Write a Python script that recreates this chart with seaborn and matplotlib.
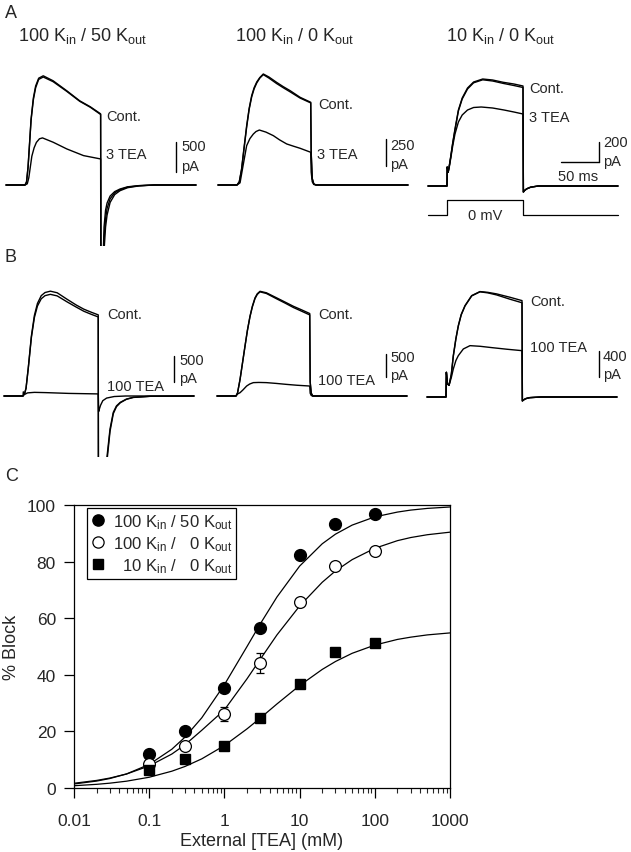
import matplotlib
matplotlib.use("Agg")
import matplotlib.pyplot as plt
import seaborn as sns

# ---------------- panel A / B current traces (t in ms, pulse 0-100 ms; I in pA) ----------------
a1_ctrl_t = [-25, 0, 2, 4, 6, 8, 11, 14, 18, 24, 37, 55, 72, 86, 99.5, 100, 101.5, 104, 106, 108, 112, 118, 125, 135, 150, 170, 225]
a1_ctrl_i = [0, 0, 50, 300, 700, 1100, 1450, 1650, 1780, 1820, 1737, 1570, 1403, 1303, 1186, -3000, -1800, -700, -420, -300, -184, -110, -67, -30, -10, 0, 0]
a1_ctrl2_i = [0, 0, 50, 290, 680, 1080, 1420, 1620, 1760, 1800, 1722, 1560, 1395, 1295, 1175, -3000, -2000, -900, -560, -390, -230, -130, -78, -36, -12, 0, 0]
a1_tea_t = [-25, 0, 3, 5, 7, 9, 12, 15, 19, 23, 37, 55, 77, 99.5, 100, 101.5, 104, 106, 108, 112, 118, 125, 135, 150, 170, 225]
a1_tea_i = [0, 0, 20, 120, 300, 480, 620, 710, 770, 785, 713, 601, 490, 434, -3000, -2200, -1100, -700, -500, -290, -160, -95, -45, -15, 0, 0]

a2_ctrl_t = [-25, 0, 3, 6, 9, 12.7, 16, 19.3, 22.5, 26, 30, 34.6, 42, 52, 61, 70, 83, 97, 97.6, 99, 101, 104, 225]
a2_ctrl_i = [0, 0, 30, 148, 330, 549, 710, 827, 900, 954, 995, 1028, 1000, 951, 910, 873, 812, 766, 300, 60, 10, 0, 0]
a2_ctrl2_i = [0, 0, 28, 140, 320, 535, 700, 815, 890, 945, 990, 1022, 990, 940, 900, 862, 805, 760, 300, 60, 10, 0, 0]
a2_tea_t = [-25, 0, 4, 8, 12.7, 17, 21.5, 25, 29.4, 38, 47.8, 56, 65.4, 74, 83, 97, 97.6, 99, 101, 104, 225]
a2_tea_i = [0, 0, 20, 180, 364, 430, 472, 495, 509, 490, 457, 418, 380, 360, 340, 303, 120, 30, 5, 0, 0]

a3_ctrl_t = [-25, 0, 0.3, 1.5, 3, 5, 7.5, 10.5, 15, 20, 27, 35, 47, 60, 74, 88, 100, 100.5, 102, 105, 110, 120, 225]
a3_ctrl_i = [0, 0, 190, 137, 200, 300, 430, 570, 760, 880, 980, 1040, 1070, 1060, 1037, 1020, 1000, -60, -45, -28, -12, 0, 0]
a3_ctrl2_i = [0, 0, 190, 137, 200, 295, 425, 560, 750, 870, 970, 1032, 1062, 1050, 1026, 1005, 985, -60, -45, -28, -12, 0, 0]
a3_tea_t = [-25, 0, 0.3, 1.5, 3, 5, 7.5, 10.5, 15, 20, 27, 35, 45, 60, 75, 88, 100, 100.5, 102, 105, 110, 120, 225]
a3_tea_i = [0, 0, 190, 137, 190, 280, 400, 520, 640, 710, 760, 785, 790, 780, 760, 740, 720, -60, -45, -28, -12, 0, 0]

step_t = [-25, 0, 0, 100, 100, 225]
step_mv = [-80, -80, 0, 0, -80, -80]

b1_ctrl_t = [-25, 0, 2, 4, 7, 11, 15, 19, 24, 29, 36, 45, 58, 70, 80, 90, 99, 99.5, 104, 108, 110.5, 114.5, 118.8, 123, 128, 136, 145, 167, 225]
b1_ctrl_i = [0, 0, 40, 150, 550, 1150, 1550, 1780, 1930, 1990, 2016, 1985, 1860, 1750, 1670, 1610, 1560, -5000, -3000, -1800, -1171, -634, -314, -190, -122, -60, -26, -6, 0]
b1_ctrl2_i = [0, 0, 40, 150, 540, 1120, 1510, 1730, 1870, 1930, 1955, 1925, 1810, 1710, 1630, 1570, 1520, -5000, -3100, -1900, -1250, -680, -340, -205, -130, -64, -28, -6, 0]
b1_tea_t = [-25, 0, 0.4, 2, 6, 15, 30, 60, 99, 99.5, 100.5, 102, 105, 110, 120, 135, 225]
b1_tea_i = [0, 0, 80, 30, 60, 70, 65, 50, 40, -300, -250, -180, -90, -40, -10, 0, 0]

b2_ctrl_t = [-25, 0, 2, 5.3, 8.5, 11.8, 15, 18.4, 21.5, 25, 28, 31.6, 40, 53.5, 65, 75.4, 86, 97, 97.6, 99, 101, 225]
b2_ctrl_i = [0, 0, 64, 357, 706, 1070, 1412, 1712, 1926, 2106, 2194, 2247, 2215, 2106, 2012, 1926, 1851, 1770, 300, 60, 0, 0]
b2_ctrl2_i = [0, 0, 64, 350, 700, 1060, 1400, 1700, 1910, 2090, 2180, 2235, 2200, 2085, 1990, 1900, 1822, 1740, 300, 60, 0, 0]
b2_tea_t = [-25, 0, 2, 5.3, 9, 14, 18, 22.8, 30, 40, 53, 66, 80, 97, 97.6, 99, 101, 225]
b2_tea_i = [0, 0, 43, 71, 128, 214, 257, 287, 291, 287, 270, 250, 231, 214, 60, 10, 0, 0]

b3_ctrl_t = [-25, 0, 0.5, 2, 4, 7, 9.6, 13, 16.2, 20, 25, 33.8, 44.7, 55, 66.7, 84, 100, 100.5, 102, 105, 110, 125, 225]
b3_ctrl_i = [0, 0, 380, 200, 180, 350, 636, 900, 1098, 1270, 1406, 1560, 1622, 1610, 1586, 1535, 1483, -60, -45, -25, -10, 0, 0]
b3_ctrl2_i = [0, 0, 380, 200, 180, 345, 625, 890, 1090, 1262, 1400, 1555, 1618, 1602, 1570, 1505, 1450, -60, -45, -25, -10, 0, 0]
b3_tea_t = [-25, 0, 0.5, 2, 4, 7, 9.6, 13, 16.2, 22.8, 31.6, 45, 60, 80, 100, 100.5, 102, 105, 110, 125, 225]
b3_tea_i = [0, 0, 380, 200, 180, 300, 431, 560, 636, 739, 790, 780, 760, 735, 713, -60, -45, -25, -10, 0, 0]

# ---------------- panel C: dose-response ----------------
tea_mm = [0.1, 0.3, 1, 3, 10, 30, 100]
block_100_50 = [12.1, 20.2, 35.5, 56.7, 82.5, 93.3, 96.8]
block_100_0 = [8.4, 14.9, 26.1, 44.3, 65.6, 78.5, 83.7]
block_100_0_err = [0, 0, 2.5, 3.5, 0, 0, 0]
block_10_0 = [6.2, 10.1, 14.9, 24.9, 36.9, 47.9, 51.1]

fit_x = [0.01, 0.02, 0.03, 0.05, 0.1, 0.2, 0.3, 0.5, 1, 2, 3, 5, 10, 20, 30, 50, 100, 200, 300, 500, 1000]
fit_100_50 = [1.42, 2.45, 3.35, 4.97, 8.34, 13.7, 18.0, 24.8, 36.5, 50.0, 58.0, 67.5, 78.4, 86.3, 89.7, 92.9, 95.8, 97.5, 98.2, 98.8, 99.3]
fit_100_0 = [1.67, 2.68, 3.52, 4.95, 7.8, 12.0, 15.3, 20.4, 27.6, 38.6, 45.5, 54.1, 64.3, 72.7, 76.7, 80.7, 84.7, 87.4, 88.5, 89.5, 90.4]
fit_10_0 = [0.80, 1.30, 1.71, 2.41, 3.8, 5.94, 7.62, 10.3, 15.0, 20.9, 24.7, 29.7, 36.2, 41.9, 44.7, 47.6, 50.5, 52.5, 53.3, 54.1, 54.8]

titles = [r"100 K$_{\mathrm{in}}$ / 50 K$_{\mathrm{out}}$",
          r"100 K$_{\mathrm{in}}$ / 0 K$_{\mathrm{out}}$",
          r"10 K$_{\mathrm{in}}$ / 0 K$_{\mathrm{out}}$"]
legend_labels = [r"100 K$_{\mathrm{in}}$ / 50 K$_{\mathrm{out}}$",
                 r"100 K$_{\mathrm{in}}$ /   0 K$_{\mathrm{out}}$",
                 r"  10 K$_{\mathrm{in}}$ /   0 K$_{\mathrm{out}}$"]

sns.set_style("ticks")
plt.rcParams["font.family"] = ["Liberation Sans", "DejaVu Sans"]
plt.rcParams["mathtext.fontset"] = "custom"
plt.rcParams["mathtext.rm"] = "Liberation Sans"
plt.rcParams["mathtext.it"] = "Liberation Sans:italic"
plt.rcParams["mathtext.bf"] = "Liberation Sans:bold"

W, H = 631, 853
fig = plt.figure(figsize=(W / 100, H / 100), dpi=100)
fig.patch.set_facecolor("white")

MS_PX = 0.76  # pixels per ms


def px_axes(left, top, width, height):
    return fig.add_axes([left / W, 1 - (top + height) / H, width / W, height / H])


def ftext(x, y, s, **kw):
    kw.setdefault("fontsize", 10)
    kw.setdefault("va", "center")
    fig.text(x / W, 1 - y / H, s, **kw)


def trace_axes(step_px, base_px, top_px, bottom_px, pa_per_px):
    ax = px_axes(step_px - 28 * MS_PX, top_px, 260 * MS_PX, bottom_px - top_px)
    ax.set_xlim(-28, 232)
    ax.set_ylim((base_px - bottom_px) * pa_per_px, (base_px - top_px) * pa_per_px)
    ax.axis("off")
    return ax


def draw(ax, t, i, lw=1.0):
    ax.plot(t, i, color="black", lw=lw, solid_joinstyle="round")


def scale_bar(ax, t, lo, val):
    ax.plot([t, t], [lo, lo + val], color="black", lw=1.0, clip_on=False)


# panel configs: step px, baseline px, pA per px
panels = [
    dict(step=25, base=186, top=55, bot=247, s=500 / 30),
    dict(step=237, base=186, top=55, bot=247, s=250 / 27),
    dict(step=447, base=187, top=55, bot=247, s=200 / 20),
    dict(step=23, base=397, top=270, bot=458, s=500 / 26),
    dict(step=236, base=397, top=270, bot=458, s=500 / 23.3),
    dict(step=446, base=398, top=270, bot=458, s=400 / 26),
]
axs = [trace_axes(p["step"], p["base"], p["top"], p["bot"], p["s"]) for p in panels]

draw(axs[0], a1_ctrl_t, a1_ctrl_i)
draw(axs[0], a1_ctrl_t, a1_ctrl2_i)
draw(axs[0], a1_tea_t, a1_tea_i)
draw(axs[1], a2_ctrl_t, a2_ctrl_i)
draw(axs[1], a2_ctrl_t, a2_ctrl2_i)
draw(axs[1], a2_tea_t, a2_tea_i)
draw(axs[2], a3_ctrl_t, a3_ctrl_i)
draw(axs[2], a3_ctrl_t, a3_ctrl2_i)
draw(axs[2], a3_tea_t, a3_tea_i)
draw(axs[3], b1_ctrl_t, b1_ctrl_i)
draw(axs[3], b1_ctrl_t, b1_ctrl2_i)
draw(axs[3], b1_tea_t, b1_tea_i)
draw(axs[4], b2_ctrl_t, b2_ctrl_i)
draw(axs[4], b2_ctrl_t, b2_ctrl2_i)
draw(axs[4], b2_tea_t, b2_tea_i)
draw(axs[5], b3_ctrl_t, b3_ctrl_i)
draw(axs[5], b3_ctrl_t, b3_ctrl2_i)
draw(axs[5], b3_tea_t, b3_tea_i)

# scale bars
scale_bar(axs[0], 199, 217, 500)
scale_bar(axs[1], 196, 176, 250)
scale_bar(axs[2], 200, 240, 200)
axs[2].plot([150, 200], [240, 240], color="black", lw=1.0, clip_on=False)
scale_bar(axs[3], 199, 269, 500)
scale_bar(axs[4], 197, 400, 500)
scale_bar(axs[5], 201, 308, 400)

# voltage protocol under A3
vax = px_axes(447 - 28 * MS_PX, 193, 260 * MS_PX, 30)
vax.set_xlim(-28, 232)
vax.set_ylim(-80 - 7 * 80 / 15, 8 * 80 / 15)
vax.axis("off")
vax.plot(step_t, step_mv, color="black", lw=0.9)
ftext(485, 216, "0 mV", ha="center", fontsize=10.5)

# trace labels (pixel positions)
for x, y, s in [(106, 117, "Cont."), (106, 155, "3 TEA"),
                (318, 105, "Cont."), (317, 155, "3 TEA"),
                (529, 89, "Cont."), (529, 118, "3 TEA"),
                (107, 315, "Cont."), (107, 387, "100 TEA"),
                (318, 315, "Cont."), (318, 381, "100 TEA"),
                (530, 302, "Cont."), (530, 348, "100 TEA")]:
    ftext(x, y, s, fontsize=10.5)

for x, y0, y1, v in [(181, 147, 167, "500"), (390, 146, 165, "250"), (603, 143, 162, "200"),
                     (179, 361, 379, "500"), (390, 358, 376, "500"), (603, 357, 375, "400")]:
    ftext(x, y0, v, fontsize=10.5)
    ftext(x, y1, "pA", fontsize=10.5)
ftext(578, 177, "50 ms", ha="center", fontsize=10.5)

# titles and panel letters
for cx, s in zip([83, 295, 501], titles):
    ftext(cx, 36, s, ha="center", fontsize=13)
ftext(5, 14, "A", fontsize=13)
ftext(5, 258, "B", fontsize=13)
ftext(5, 477, "C", fontsize=13)

# ---------------- panel C ----------------
axc = px_axes(74, 506, 376, 283)
sns.lineplot(x=fit_x, y=fit_100_50, color="black", lw=0.9, ax=axc, zorder=1)
sns.lineplot(x=fit_x, y=fit_100_0, color="black", lw=0.9, ax=axc, zorder=1)
sns.lineplot(x=fit_x, y=fit_10_0, color="black", lw=0.9, ax=axc, zorder=1)
h1, = axc.plot(tea_mm, block_100_50, "o", ms=8.5, mfc="black", mec="black", zorder=3)
axc.errorbar(tea_mm, block_100_0, yerr=block_100_0_err, fmt="none", ecolor="black",
             elinewidth=0.9, capsize=3, capthick=0.9, zorder=2)
h2, = axc.plot(tea_mm, block_100_0, "o", ms=8.5, mfc="white", mec="black", mew=0.9, zorder=3)
h3, = axc.plot(tea_mm, block_10_0, "s", ms=7.5, mfc="black", mec="black", zorder=3)

axc.set_xscale("log")
axc.set_xlim(0.01, 1000)
axc.set_ylim(0, 100)
axc.set_yticks([0, 20, 40, 60, 80, 100])
axc.set_xticks([0.01, 0.1, 1, 10, 100, 1000])
axc.set_xticklabels(["0.01", "0.1", "1", "10", "100", "1000"])
axc.tick_params(axis="both", which="major", direction="out", length=7, width=0.9,
                labelsize=12.5, pad=6, color="black")
axc.tick_params(axis="x", which="major", pad=11)
axc.tick_params(axis="x", which="minor", direction="out", length=3.5, width=0.8)
axc.tick_params(axis="y", which="minor", left=False)
for sp in axc.spines.values():
    sp.set_linewidth(0.9)
    sp.set_color("black")
axc.set_xlabel("External [TEA] (mM)", fontsize=13, labelpad=3)
axc.set_ylabel("% Block", fontsize=13, labelpad=5)

leg = axc.legend([h1, h2, h3], legend_labels, loc="upper left",
                 bbox_to_anchor=(13 / 376, 1 - 3 / 283), borderaxespad=0,
                 fontsize=12, frameon=True, fancybox=False, framealpha=1,
                 handlelength=0.8, handletextpad=0.5, labelspacing=0.2,
                 borderpad=0.25, markerscale=0.95)
leg.get_frame().set_edgecolor("black")
leg.get_frame().set_linewidth(0.9)

fig.savefig("out.png", dpi=100, facecolor="white")
